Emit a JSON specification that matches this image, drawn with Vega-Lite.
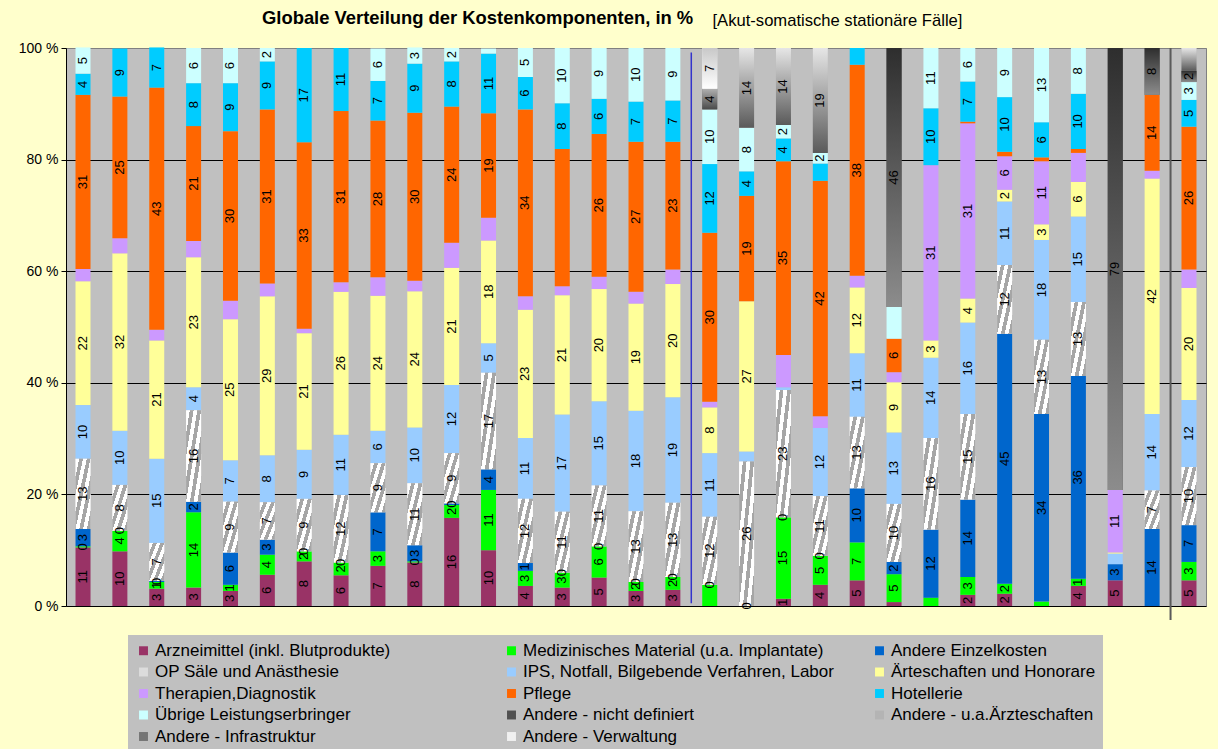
{
"$schema": "https://vega.github.io/schema/vega-lite/v6.json",
"autosize": {"type": "none"},
"width": 1140, "height": 558,
"padding": {"left": 66, "top": 48, "right": 12, "bottom": 143},
"background": "#ffffcc",
"config": {"font": "Liberation Sans", "view": {"fill": "#c0c0c0", "stroke": "#808080"}},
"title": {"text": "Globale Verteilung der Kostenkomponenten, in %", "anchor": "start", "frame": "group", "dx": 196, "offset": 0, "dy": 15, "fontSize": 18.4, "fontWeight": "bold", "color": "#000000"},
"datasets": {
"cats": [
{"c":1,"name":"Arzneimittel (inkl. Blutprodukte)"},
{"c":2,"name":"Medizinisches Material (u.a. Implantate)"},
{"c":3,"name":"Andere Einzelkosten"},
{"c":4,"name":"OP Säle und Anästhesie"},
{"c":5,"name":"IPS, Notfall, Bilgebende Verfahren, Labor"},
{"c":6,"name":"Ärteschaften und Honorare"},
{"c":7,"name":"Therapien,Diagnostik"},
{"c":8,"name":"Pflege"},
{"c":9,"name":"Hotellerie"},
{"c":10,"name":"Übrige Leistungserbringer"},
{"c":11,"name":"Andere - nicht definiert"},
{"c":12,"name":"Andere - u.a.Ärzteschaften"},
{"c":13,"name":"Andere - Infrastruktur"},
{"c":14,"name":"Andere - Verwaltung"}
]
},
"data": {"values": [
{"b":"101","c":1,"v":10.5,"t":"11"},{"b":"101","c":2,"v":0.2,"t":"0"},{"b":"101","c":3,"v":3.1,"t":"3"},{"b":"101","c":4,"v":12.6,"t":"13"},{"b":"101","c":5,"v":9.6,"t":"10"},{"b":"101","c":6,"v":22.2,"t":"22"},{"b":"101","c":7,"v":2.2,"t":""},{"b":"101","c":8,"v":31.2,"t":"31"},{"b":"101","c":9,"v":3.8,"t":"4"},{"b":"101","c":10,"v":4.7,"t":"5"},
{"b":"102","c":1,"v":9.8,"t":"10"},{"b":"102","c":2,"v":3.7,"t":"4"},{"b":"102","c":3,"v":0,"t":"0"},{"b":"102","c":4,"v":8.2,"t":"8"},{"b":"102","c":5,"v":9.7,"t":"10"},{"b":"102","c":6,"v":31.8,"t":"32"},{"b":"102","c":7,"v":2.7,"t":""},{"b":"102","c":8,"v":25.4,"t":"25"},{"b":"102","c":9,"v":8.6,"t":"9"},
{"b":"103","c":1,"v":3.1,"t":"3"},{"b":"103","c":2,"v":1.2,"t":"1"},{"b":"103","c":3,"v":0.2,"t":"0"},{"b":"103","c":4,"v":6.8,"t":"7"},{"b":"103","c":5,"v":15.1,"t":"15"},{"b":"103","c":6,"v":21.2,"t":"21"},{"b":"103","c":7,"v":1.9,"t":""},{"b":"103","c":8,"v":43.4,"t":"43"},{"b":"103","c":9,"v":7.2,"t":"7"},
{"b":"104","c":1,"v":3.3,"t":"3"},{"b":"104","c":2,"v":13.5,"t":"14"},{"b":"104","c":3,"v":1.9,"t":"2"},{"b":"104","c":4,"v":16.4,"t":"16"},{"b":"104","c":5,"v":4.1,"t":"4"},{"b":"104","c":6,"v":23.3,"t":"23"},{"b":"104","c":7,"v":2.9,"t":""},{"b":"104","c":8,"v":20.6,"t":"21"},{"b":"104","c":9,"v":7.7,"t":"8"},{"b":"104","c":10,"v":6.3,"t":"6"},
{"b":"105","c":1,"v":2.7,"t":"3"},{"b":"105","c":2,"v":1.1,"t":"1"},{"b":"105","c":3,"v":5.8,"t":"6"},{"b":"105","c":4,"v":9.1,"t":"9"},{"b":"105","c":5,"v":7.4,"t":"7"},{"b":"105","c":6,"v":25.3,"t":"25"},{"b":"105","c":7,"v":3.3,"t":""},{"b":"105","c":8,"v":30.4,"t":"30"},{"b":"105","c":9,"v":8.6,"t":"9"},{"b":"105","c":10,"v":6.3,"t":"6"},
{"b":"106","c":1,"v":5.6,"t":"6"},{"b":"106","c":2,"v":3.6,"t":"4"},{"b":"106","c":3,"v":2.7,"t":"3"},{"b":"106","c":4,"v":6.7,"t":"7"},{"b":"106","c":5,"v":8.4,"t":"8"},{"b":"106","c":6,"v":28.5,"t":"29"},{"b":"106","c":7,"v":2.3,"t":""},{"b":"106","c":8,"v":31.2,"t":"31"},{"b":"106","c":9,"v":8.6,"t":"9"},{"b":"106","c":10,"v":2.4,"t":"2"},
{"b":"107","c":1,"v":8.0,"t":"8"},{"b":"107","c":2,"v":1.8,"t":"2"},{"b":"107","c":3,"v":0,"t":"0"},{"b":"107","c":4,"v":9.4,"t":"9"},{"b":"107","c":5,"v":8.8,"t":"9"},{"b":"107","c":6,"v":20.9,"t":"21"},{"b":"107","c":7,"v":0.8,"t":""},{"b":"107","c":8,"v":33.4,"t":"33"},{"b":"107","c":9,"v":16.9,"t":"17"},
{"b":"108","c":1,"v":5.5,"t":"6"},{"b":"108","c":2,"v":2.3,"t":"2"},{"b":"108","c":3,"v":0,"t":"0"},{"b":"108","c":4,"v":12.1,"t":"12"},{"b":"108","c":5,"v":10.8,"t":"11"},{"b":"108","c":6,"v":25.6,"t":"26"},{"b":"108","c":7,"v":1.7,"t":""},{"b":"108","c":8,"v":30.7,"t":"31"},{"b":"108","c":9,"v":11.3,"t":"11"},
{"b":"109","c":1,"v":7.2,"t":"7"},{"b":"109","c":2,"v":2.6,"t":"3"},{"b":"109","c":3,"v":7.0,"t":"7"},{"b":"109","c":4,"v":8.8,"t":"9"},{"b":"109","c":5,"v":5.8,"t":"6"},{"b":"109","c":6,"v":24.2,"t":"24"},{"b":"109","c":7,"v":3.3,"t":""},{"b":"109","c":8,"v":28.1,"t":"28"},{"b":"109","c":9,"v":7.1,"t":"7"},{"b":"109","c":10,"v":5.8,"t":"6"},
{"b":"110","c":1,"v":7.8,"t":"8"},{"b":"110","c":2,"v":0.2,"t":"0"},{"b":"110","c":3,"v":2.9,"t":"3"},{"b":"110","c":4,"v":11.1,"t":"11"},{"b":"110","c":5,"v":10.0,"t":"10"},{"b":"110","c":6,"v":24.4,"t":"24"},{"b":"110","c":7,"v":1.9,"t":""},{"b":"110","c":8,"v":30.1,"t":"30"},{"b":"110","c":9,"v":8.8,"t":"9"},{"b":"110","c":10,"v":2.9,"t":"3"},
{"b":"111","c":1,"v":15.8,"t":"16"},{"b":"111","c":2,"v":2.3,"t":"2"},{"b":"111","c":3,"v":0.3,"t":"0"},{"b":"111","c":4,"v":9.0,"t":"9"},{"b":"111","c":5,"v":12.2,"t":"12"},{"b":"111","c":6,"v":21.0,"t":"21"},{"b":"111","c":7,"v":4.5,"t":""},{"b":"111","c":8,"v":24.4,"t":"24"},{"b":"111","c":9,"v":8.1,"t":"8"},{"b":"111","c":10,"v":2.4,"t":"2"},
{"b":"130","c":1,"v":10.0,"t":"10"},{"b":"130","c":2,"v":10.8,"t":"11"},{"b":"130","c":3,"v":3.7,"t":"4"},{"b":"130","c":4,"v":17.3,"t":"17"},{"b":"130","c":5,"v":5.3,"t":"5"},{"b":"130","c":6,"v":18.4,"t":"18"},{"b":"130","c":7,"v":4.1,"t":""},{"b":"130","c":8,"v":18.7,"t":"19"},{"b":"130","c":9,"v":10.7,"t":"11"},{"b":"130","c":10,"v":0.9,"t":""},
{"b":"140","c":1,"v":3.6,"t":"4"},{"b":"140","c":2,"v":2.7,"t":"3"},{"b":"140","c":3,"v":1.4,"t":"1"},{"b":"140","c":4,"v":11.5,"t":"12"},{"b":"140","c":5,"v":10.9,"t":"11"},{"b":"140","c":6,"v":23.0,"t":"23"},{"b":"140","c":7,"v":2.4,"t":""},{"b":"140","c":8,"v":33.5,"t":"34"},{"b":"140","c":9,"v":5.8,"t":"6"},{"b":"140","c":10,"v":5.2,"t":"5"},
{"b":"113","c":1,"v":3.3,"t":"3"},{"b":"113","c":2,"v":2.7,"t":"3"},{"b":"113","c":3,"v":0,"t":"0"},{"b":"113","c":4,"v":10.9,"t":"11"},{"b":"113","c":5,"v":17.4,"t":"17"},{"b":"113","c":6,"v":21.4,"t":"21"},{"b":"113","c":7,"v":1.6,"t":""},{"b":"113","c":8,"v":24.6,"t":""},{"b":"113","c":9,"v":8.2,"t":"8"},{"b":"113","c":10,"v":9.9,"t":"10"},
{"b":"114","c":1,"v":5.1,"t":"5"},{"b":"114","c":2,"v":5.6,"t":"6"},{"b":"114","c":3,"v":0,"t":"0"},{"b":"114","c":4,"v":10.9,"t":"11"},{"b":"114","c":5,"v":15.1,"t":"15"},{"b":"114","c":6,"v":20.1,"t":"20"},{"b":"114","c":7,"v":2.2,"t":""},{"b":"114","c":8,"v":25.6,"t":"26"},{"b":"114","c":9,"v":6.3,"t":"6"},{"b":"114","c":10,"v":9.1,"t":"9"},
{"b":"115","c":1,"v":2.7,"t":"3"},{"b":"115","c":2,"v":1.6,"t":"2"},{"b":"115","c":3,"v":0,"t":"0"},{"b":"115","c":4,"v":12.7,"t":"13"},{"b":"115","c":5,"v":18.0,"t":"18"},{"b":"115","c":6,"v":19.2,"t":"19"},{"b":"115","c":7,"v":2.1,"t":""},{"b":"115","c":8,"v":26.9,"t":"27"},{"b":"115","c":9,"v":7.2,"t":"7"},{"b":"115","c":10,"v":9.6,"t":"10"},
{"b":"116","c":1,"v":2.9,"t":"3"},{"b":"116","c":2,"v":2.3,"t":"2"},{"b":"116","c":3,"v":0,"t":"0"},{"b":"116","c":4,"v":13.3,"t":"13"},{"b":"116","c":5,"v":18.9,"t":"19"},{"b":"116","c":6,"v":20.3,"t":"20"},{"b":"116","c":7,"v":2.6,"t":""},{"b":"116","c":8,"v":22.9,"t":"23"},{"b":"116","c":9,"v":7.4,"t":"7"},{"b":"116","c":10,"v":9.4,"t":"9"},
{"b":"121","c":2,"v":3.8,"t":""},{"b":"121","c":3,"v":0,"t":"0"},{"b":"121","c":4,"v":12.2,"t":"12"},{"b":"121","c":5,"v":11.4,"t":"11"},{"b":"121","c":6,"v":8.2,"t":"8"},{"b":"121","c":7,"v":1.0,"t":""},{"b":"121","c":8,"v":30.3,"t":"30"},{"b":"121","c":9,"v":12.3,"t":"12"},{"b":"121","c":10,"v":9.8,"t":"10"},{"b":"121","c":13,"v":3.7,"t":"4"},{"b":"121","c":14,"v":7.3,"t":"7"},
{"b":"119","c":1,"v":0,"t":"0"},{"b":"119","c":4,"v":25.9,"t":"26"},{"b":"119","c":5,"v":1.8,"t":""},{"b":"119","c":6,"v":26.9,"t":"27"},{"b":"119","c":8,"v":18.9,"t":"19"},{"b":"119","c":9,"v":4.4,"t":"4"},{"b":"119","c":10,"v":7.8,"t":"8"},{"b":"119","c":12,"v":14.3,"t":"14"},
{"b":"120","c":1,"v":1.3,"t":"1"},{"b":"120","c":2,"v":14.6,"t":"15"},{"b":"120","c":3,"v":0,"t":"0"},{"b":"120","c":4,"v":22.8,"t":"23"},{"b":"120","c":5,"v":0.5,"t":""},{"b":"120","c":7,"v":5.8,"t":""},{"b":"120","c":8,"v":34.7,"t":"35"},{"b":"120","c":9,"v":4.1,"t":"4"},{"b":"120","c":10,"v":2.4,"t":"2"},{"b":"120","c":12,"v":13.8,"t":"14"},
{"b":"122","c":1,"v":3.8,"t":"4"},{"b":"122","c":2,"v":5.2,"t":"5"},{"b":"122","c":3,"v":0,"t":"0"},{"b":"122","c":4,"v":10.7,"t":"11"},{"b":"122","c":5,"v":12.2,"t":"12"},{"b":"122","c":7,"v":2.1,"t":""},{"b":"122","c":8,"v":42.2,"t":"42"},{"b":"122","c":9,"v":3.1,"t":""},{"b":"122","c":10,"v":1.9,"t":"2"},{"b":"122","c":12,"v":18.8,"t":"19"},
{"b":"131","c":1,"v":4.6,"t":"5"},{"b":"131","c":2,"v":6.8,"t":"7"},{"b":"131","c":3,"v":9.7,"t":"10"},{"b":"131","c":4,"v":12.8,"t":"13"},{"b":"131","c":5,"v":11.4,"t":"11"},{"b":"131","c":6,"v":11.8,"t":"12"},{"b":"131","c":7,"v":2.1,"t":""},{"b":"131","c":8,"v":37.8,"t":"38"},{"b":"131","c":9,"v":3.0,"t":""},
{"b":"118","c":1,"v":0.7,"t":""},{"b":"118","c":2,"v":5.0,"t":"5"},{"b":"118","c":3,"v":2.2,"t":"2"},{"b":"118","c":4,"v":10.4,"t":"10"},{"b":"118","c":5,"v":12.8,"t":"13"},{"b":"118","c":6,"v":9.0,"t":"9"},{"b":"118","c":7,"v":1.8,"t":""},{"b":"118","c":8,"v":6.0,"t":"6"},{"b":"118","c":10,"v":5.7,"t":""},{"b":"118","c":11,"v":46.4,"t":"46"},
{"b":"125","c":2,"v":1.5,"t":""},{"b":"125","c":3,"v":12.2,"t":"12"},{"b":"125","c":4,"v":16.4,"t":"16"},{"b":"125","c":5,"v":14.4,"t":"14"},{"b":"125","c":6,"v":3.1,"t":"3"},{"b":"125","c":7,"v":31.4,"t":"31"},{"b":"125","c":9,"v":10.2,"t":"10"},{"b":"125","c":10,"v":10.8,"t":"11"},
{"b":"128","c":1,"v":2.0,"t":"2"},{"b":"128","c":2,"v":3.2,"t":"3"},{"b":"128","c":3,"v":13.9,"t":"14"},{"b":"128","c":4,"v":15.3,"t":"15"},{"b":"128","c":5,"v":16.4,"t":"16"},{"b":"128","c":6,"v":4.3,"t":"4"},{"b":"128","c":7,"v":31.4,"t":"31"},{"b":"128","c":8,"v":0.3,"t":""},{"b":"128","c":9,"v":7.2,"t":"7"},{"b":"128","c":10,"v":6.0,"t":"6"},
{"b":"126","c":1,"v":2.2,"t":"2"},{"b":"126","c":2,"v":1.8,"t":"2"},{"b":"126","c":3,"v":44.8,"t":"45"},{"b":"126","c":4,"v":12.3,"t":"12"},{"b":"126","c":5,"v":11.4,"t":"11"},{"b":"126","c":6,"v":2.1,"t":"2"},{"b":"126","c":7,"v":6.0,"t":"6"},{"b":"126","c":8,"v":0.8,"t":""},{"b":"126","c":9,"v":9.8,"t":"10"},{"b":"126","c":10,"v":8.8,"t":"9"},
{"b":"127","c":2,"v":0.8,"t":""},{"b":"127","c":3,"v":33.6,"t":"34"},{"b":"127","c":4,"v":13.3,"t":"13"},{"b":"127","c":5,"v":17.9,"t":"18"},{"b":"127","c":6,"v":2.8,"t":"3"},{"b":"127","c":7,"v":11.3,"t":"11"},{"b":"127","c":8,"v":0.7,"t":""},{"b":"127","c":9,"v":6.3,"t":"6"},{"b":"127","c":10,"v":13.3,"t":"13"},
{"b":"129","c":1,"v":3.6,"t":"4"},{"b":"129","c":2,"v":1.3,"t":"1"},{"b":"129","c":3,"v":36.3,"t":"36"},{"b":"129","c":4,"v":13.3,"t":"13"},{"b":"129","c":5,"v":15.3,"t":"15"},{"b":"129","c":6,"v":6.2,"t":"6"},{"b":"129","c":7,"v":5.2,"t":""},{"b":"129","c":8,"v":0.7,"t":""},{"b":"129","c":9,"v":9.9,"t":"10"},{"b":"129","c":10,"v":8.2,"t":"8"},
{"b":"112","c":1,"v":4.6,"t":"5"},{"b":"112","c":3,"v":2.9,"t":"3"},{"b":"112","c":5,"v":1.9,"t":""},{"b":"112","c":6,"v":0.2,"t":""},{"b":"112","c":7,"v":11.2,"t":"11"},{"b":"112","c":11,"v":79.2,"t":"79"},
{"b":"123","c":3,"v":13.8,"t":"14"},{"b":"123","c":4,"v":6.9,"t":"7"},{"b":"123","c":5,"v":13.7,"t":"14"},{"b":"123","c":6,"v":42.2,"t":"42"},{"b":"123","c":7,"v":1.4,"t":""},{"b":"123","c":8,"v":13.6,"t":"14"},{"b":"123","c":11,"v":8.4,"t":"8"},
{"b":"Alle","c":1,"v":4.6,"t":"5"},{"b":"Alle","c":2,"v":3.3,"t":"3"},{"b":"Alle","c":3,"v":6.6,"t":"7"},{"b":"Alle","c":4,"v":10.4,"t":"10"},{"b":"Alle","c":5,"v":12.0,"t":"12"},{"b":"Alle","c":6,"v":20.1,"t":"20"},{"b":"Alle","c":7,"v":3.3,"t":""},{"b":"Alle","c":8,"v":25.6,"t":"26"},{"b":"Alle","c":9,"v":4.8,"t":"5"},{"b":"Alle","c":10,"v":3.2,"t":"3"},{"b":"Alle","c":11,"v":2.0,"t":"2"},{"b":"Alle","c":12,"v":4.1,"t":""}
]},
"layer": [
{
"transform": [
{"lookup": "c", "from": {"data": {"name": "cats"}, "key": "c", "fields": ["name"]}},
{"stack": "v", "groupby": ["b"], "sort": [{"field": "c", "order": "ascending"}], "as": ["y0", "y1"]},
{"calculate": "(datum.y0 + datum.y1) / 2", "as": "ym"}
],
"encoding": {
"x": {"field": "b", "type": "nominal",
"scale": {"domain": ["101","102","103","104","105","106","107","108","109","110","111","130","140","113","114","115","116","121","119","120","122","131","118","125","128","126","127","129","112","123","Alle"], "paddingInner": 0.593, "paddingOuter": 0.258},
"axis": {"title": null, "labelAngle": 0, "labelFontSize": 10, "labelColor": "#000000", "ticks": false, "labelPadding": 4, "domainColor": "#333333", "domainWidth": 2, "grid": false}}
},
"layer": [
{
"mark": {"type": "bar"},
"encoding": {
"y": {"field": "y0", "type": "quantitative", "scale": {"domain": [0, 100], "nice": false},
"axis": {"values": [0, 20, 40, 60, 80, 100], "labelExpr": "datum.value + ' %'", "labelFontSize": 14, "labelColor": "#000000", "tickSize": 5, "tickColor": "#000000", "domainColor": "#000000", "labelPadding": 3,
"gridColor": {"condition": {"test": "datum.value == 100", "value": "#808080"}, "value": "#000000"}, "gridOpacity": 1,
"title": "[Akut-somatische stationäre Fälle]", "titleAngle": 0, "titleX": 646, "titleY": -23, "titleAlign": "left", "titleBaseline": "alphabetic", "titleFontSize": 16.6, "titleFontWeight": "normal", "titleColor": "#000000"}},
"y2": {"field": "y1"},
"fill": {"field": "name", "type": "nominal",
"scale": {"domain": ["Arzneimittel (inkl. Blutprodukte)","Medizinisches Material (u.a. Implantate)","Andere Einzelkosten","OP Säle und Anästhesie","IPS, Notfall, Bilgebende Verfahren, Labor","Ärteschaften und Honorare","Therapien,Diagnostik","Pflege","Hotellerie","Übrige Leistungserbringer","Andere - nicht definiert","Andere - u.a.Ärzteschaften","Andere - Infrastruktur","Andere - Verwaltung"],
"range": ["#993366","#00ff00","#0066cc","#dcdcdc","#99ccff","#ffff99","#cc99ff","#ff6600","#00ccff","#ccffff","#505050","#b4b4b4","#757575","#f0f0f0"]},
"legend": {"orient": "none", "direction": "horizontal", "legendX": 62, "legendY": 587, "columns": 3, "title": null, "fillColor": "#c0c0c0", "padding": 7, "symbolType": "square", "symbolSize": 80, "symbolStrokeWidth": 0, "labelFontSize": 17, "labelColor": "#000000", "labelLimit": 340, "labelOffset": 3, "columnPadding": 37, "rowPadding": 3.5, "gridAlign": "all"}}
}
},
{
"transform": [{"filter": "datum.c == 4"}],
"mark": {"type": "bar", "fill": {"gradient": "linear", "x1": 0, "y1": 0, "x2": 1, "y2": 1, "stops": [
{"offset": 0, "color": "#ffffff"}, {"offset": 0.125, "color": "#ffffff"}, {"offset": 0.125, "color": "#a6a6a6"}, {"offset": 0.25, "color": "#a6a6a6"},
{"offset": 0.25, "color": "#ffffff"}, {"offset": 0.375, "color": "#ffffff"}, {"offset": 0.375, "color": "#a6a6a6"}, {"offset": 0.5, "color": "#a6a6a6"},
{"offset": 0.5, "color": "#ffffff"}, {"offset": 0.625, "color": "#ffffff"}, {"offset": 0.625, "color": "#a6a6a6"}, {"offset": 0.75, "color": "#a6a6a6"},
{"offset": 0.75, "color": "#ffffff"}, {"offset": 0.875, "color": "#ffffff"}, {"offset": 0.875, "color": "#a6a6a6"}, {"offset": 1, "color": "#a6a6a6"}]}},
"encoding": {"y": {"field": "y0", "type": "quantitative", "scale": {"domain": [0, 100], "nice": false}}, "y2": {"field": "y1"}}
},
{
"transform": [{"filter": "datum.c == 11"}],
"mark": {"type": "bar", "fill": {"gradient": "linear", "x1": 0, "y1": 0, "x2": 0, "y2": 1, "stops": [{"offset": 0, "color": "#2e2e2e"}, {"offset": 1, "color": "#8c8c8c"}]}},
"encoding": {"y": {"field": "y0", "type": "quantitative", "scale": {"domain": [0, 100], "nice": false}}, "y2": {"field": "y1"}}
},
{
"transform": [{"filter": "datum.c == 12"}],
"mark": {"type": "bar", "fill": {"gradient": "linear", "x1": 0, "y1": 0, "x2": 0, "y2": 1, "stops": [{"offset": 0, "color": "#e6e6e6"}, {"offset": 1, "color": "#5a5a5a"}]}},
"encoding": {"y": {"field": "y0", "type": "quantitative", "scale": {"domain": [0, 100], "nice": false}}, "y2": {"field": "y1"}}
},
{
"transform": [{"filter": "datum.c == 13"}],
"mark": {"type": "bar", "fill": {"gradient": "linear", "x1": 0, "y1": 0, "x2": 0, "y2": 1, "stops": [{"offset": 0, "color": "#b0b0b0"}, {"offset": 1, "color": "#4a4a4a"}]}},
"encoding": {"y": {"field": "y0", "type": "quantitative", "scale": {"domain": [0, 100], "nice": false}}, "y2": {"field": "y1"}}
},
{
"transform": [{"filter": "datum.c == 14"}],
"mark": {"type": "bar", "fill": {"gradient": "linear", "x1": 0, "y1": 0, "x2": 0, "y2": 1, "stops": [{"offset": 0, "color": "#c8c8c8"}, {"offset": 1, "color": "#ffffff"}]}},
"encoding": {"y": {"field": "y0", "type": "quantitative", "scale": {"domain": [0, 100], "nice": false}}, "y2": {"field": "y1"}}
},
{
"mark": {"type": "text", "angle": 270, "fontSize": 13, "baseline": "middle", "align": "center", "color": "#000000"},
"encoding": {
"y": {"field": "ym", "type": "quantitative", "scale": {"domain": [0, 100], "nice": false}},
"text": {"field": "t"},
"fontWeight": {"condition": {"test": "indexof(['121:6','121:13','119:12','120:12','122:12','131:6','118:6','118:11','125:7','128:7','126:3','127:3','129:3','112:11','123:8','123:11'], datum.b + ':' + datum.c) >= 0", "value": "bold"}, "value": "normal"}
}
}
]
},
{
"data": {"values": [{}]},
"mark": {"type": "rule", "color": "#3333cc", "strokeWidth": 1.5},
"encoding": {
"x": {"datum": "121", "type": "nominal", "bandPosition": -0.729, "axis": null},
"y": {"datum": 0.5, "type": "quantitative", "scale": {"domain": [0, 100], "nice": false}},
"y2": {"datum": 99.2}
}
},
{
"data": {"values": [{}]},
"mark": {"type": "rule", "color": "#5a5a5a", "strokeWidth": 2},
"encoding": {
"x": {"datum": "Alle", "type": "nominal", "bandPosition": -0.729, "axis": null},
"y": {"datum": -2.5, "type": "quantitative", "scale": {"domain": [0, 100], "nice": false}},
"y2": {"datum": 100}
}
}
]
}
